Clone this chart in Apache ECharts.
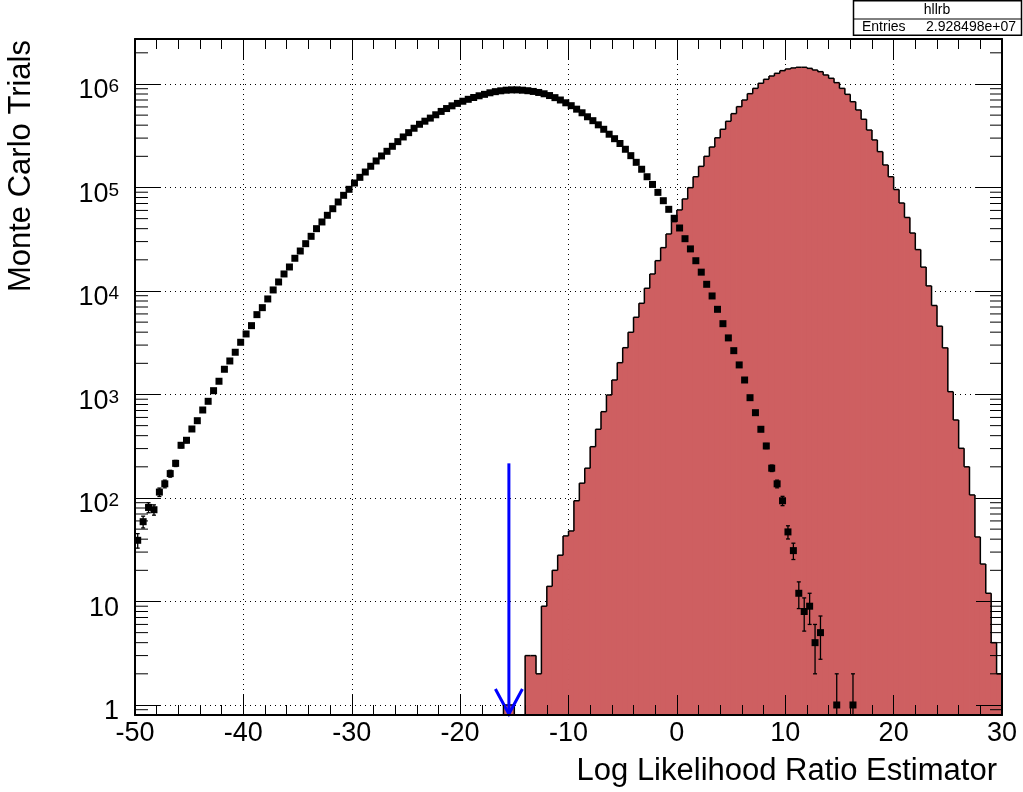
<!DOCTYPE html>
<html><head><meta charset="utf-8">
<script src="https://cdn.jsdelivr.net/npm/echarts@6/dist/echarts.min.js"></script>
<style>html,body{margin:0;padding:0;background:#fff}#c{width:1023px;height:792px}</style>
</head><body><div id="c"></div>
<script>
// ---- data ----
const X_MIN = -50, X_MAX = 30, BIN = 0.5;
const Y_MIN = 0.8, Y_MAX = 2.72e6;
const xTickValues = [-50, -40, -30, -20, -10, 0, 10, 20, 30];
const yTickLabels = ['1', '10', '10^2', '10^3', '10^4', '10^5', '10^6'];

// black points (first bin centre -49.75, bin width 0.5)
const blackFirstCenter = -49.75;
const blackCounts = [
  39, 59, 81, 77, 114, 137, 172, 216, 323, 361, 464, 558, 708, 859, 1088, 1342, 1752, 2107, 2558, 3194,
  3843, 4624, 5907, 6900, 8376, 10230, 12220, 14600, 17050, 20700, 24330, 28640, 33740, 40000, 46430, 53850,
  62350, 72400, 84000, 96000, 110400, 125300, 141000, 160300, 180400, 201500, 223600, 250000, 277300, 307700,
  338600, 373400, 408000, 437000,
  468000, 504000, 543000, 579000, 615000, 649000, 681000, 711000, 740000, 769000, 794000, 822000, 843000,
  859000, 871000, 877000, 877000, 871000, 861000, 847000, 828000, 804000, 773000, 738000, 700000, 658000,
  617000, 571000, 527000, 482000, 442000, 403000, 365000, 327000, 296000, 266000, 234000, 203000, 175000,
  150000, 127000, 107000, 89700, 74500, 61500, 50400, 40600, 32000, 25500, 19600, 15200, 11600, 8950, 6650,
  4830, 3520, 2650, 1930, 1380, 931, 667, 461, 318, 194, 137, 94, 47, 31, 12, 8, 9, 4, 5, 0, 0, 1, 0, 0, 1
];

// red filled histogram (first bin centre -15.75, bin width 0.5)
const redFirstCenter = -15.75;
const redCounts = [
  1, 1, 0, 0, 3, 3, 2, 9, 14, 20, 28, 43, 48, 94, 139, 194,
  313, 461, 682, 989, 1380, 2028, 2831, 3990, 5572, 7603, 10620, 14590, 19630, 26220, 35540, 46770,
  60680, 77480, 99600, 127000, 160000, 200000, 246000, 302000, 365000, 436000,
  517000, 604000, 700000, 806000, 907000, 1016000, 1110000, 1194000, 1268000, 1345000,
  1397000, 1429000, 1450000, 1450000, 1416000, 1365000, 1315000, 1222000, 1135000, 1030000,
  907000, 794000, 674000, 561000, 456000, 359000, 288000, 222000, 165000, 127000,
  95500, 70800, 51300, 36300, 25100, 17000, 11200, 7240, 4570, 2820,
  1064, 567, 302, 200, 107, 42, 23, 12, 4, 2
];

// blue arrow: [x position, top value]
const cutArrow = [-15.5, 216];

const statsName = 'hllrb';
const statsLabel = 'Entries';
const statsValue = '2.928498e+07';
const xTitle = 'Log Likelihood Ratio Estimator';
const yTitle = 'Monte Carlo Trials';

// ---- styles ----
const FONT = 'Liberation Sans';
const RED = '#ce5f61';

const yMinorTicks = [];
[0.1, 1, 10, 100, 1e3, 1e4, 1e5, 1e6].forEach(d => {
  for (let k = 2; k <= 9; k++) { const t = d * k; if (t > Y_MIN && t < Y_MAX) yMinorTicks.push(t); }
});

function yLabel(v) {
  const l = Math.log10(v), e = Math.round(l);
  if (Math.abs(l - e) > 1e-6 || e < 0 || e >= yTickLabels.length) return '';
  const s = yTickLabels[e];
  if (s.indexOf('^') < 0) return '{p|' + s + '}';
  const p = s.split('^');
  return '{b|' + p[0] + '}{s|' + p[1] + '}';
}

const redData = redCounts.map((v, i) => {
  const c = redFirstCenter + i * BIN;
  return [c - BIN / 2, c + BIN / 2, v, i > 0 ? redCounts[i - 1] : 0, i === redCounts.length - 1 ? 1 : 0];
});
const blackData = blackCounts.map((v, i) => [blackFirstCenter + i * BIN, v]).filter(d => d[1] > 0);

const yv = v => (v > 0 ? v : Y_MIN);

const baseX = { type: 'value', min: X_MIN, max: X_MAX, interval: 10, gridIndex: 0 };
const baseY = { type: 'log', logBase: 10, min: Y_MIN, max: Y_MAX, gridIndex: 0 };
const tickStyle = { color: '#000', width: 1 };

const option = {
  animation: false,
  backgroundColor: '#fff',
  grid: { left: 135, top: 39, width: 867, height: 676, show: false },
  xAxis: [
    Object.assign({}, baseX, {
      position: 'bottom', z: 10,
      axisLine: { show: true, onZero: false, lineStyle: { color: '#000', width: 2 } },
      axisTick: { show: true, inside: true, length: 20, lineStyle: tickStyle },
      minorTick: { show: true, splitNumber: 5, length: 10, lineStyle: tickStyle },
      axisLabel: { show: true, margin: 5, fontSize: 27, fontFamily: FONT, color: '#000' },
      splitLine: { show: false }
    }),
    Object.assign({}, baseX, {
      position: 'top', z: 10,
      axisLine: { show: true, onZero: false, lineStyle: { color: '#000', width: 2 } },
      axisTick: { show: true, inside: true, length: 20, lineStyle: tickStyle },
      minorTick: { show: true, splitNumber: 5, length: 10, lineStyle: tickStyle },
      axisLabel: { show: false },
      splitLine: { show: false }
    }),
    Object.assign({}, baseX, {
      position: 'bottom', z: 0,
      axisLine: { show: false }, axisTick: { show: false }, axisLabel: { show: false },
      splitLine: { show: true, lineStyle: { color: '#000', width: 1, type: [1, 4] } }
    })
  ],
  yAxis: [
    Object.assign({}, baseY, {
      position: 'left', z: 10,
      axisLine: { show: true, onZero: false, lineStyle: { color: '#000', width: 2 } },
      axisTick: { show: true, inside: true, length: 26, lineStyle: tickStyle },
      axisLabel: {
        show: true, margin: 16, fontSize: 27, fontFamily: FONT, color: '#000',
        padding: [14, 0, 0, 0],
        formatter: yLabel,
        rich: {
          p: { fontSize: 27, lineHeight: 27, fontFamily: FONT, color: '#000', verticalAlign: 'top', padding: [0, 0, 5, 0] },
          b: { fontSize: 27, lineHeight: 27, fontFamily: FONT, color: '#000', verticalAlign: 'bottom' },
          s: { fontSize: 19, lineHeight: 19, fontFamily: FONT, color: '#000', verticalAlign: 'top', padding: [0, 0, 12, 0] }
        }
      },
      splitLine: { show: false }
    }),
    Object.assign({}, baseY, {
      position: 'right', z: 10,
      axisLine: { show: true, onZero: false, lineStyle: { color: '#000', width: 2 } },
      axisTick: { show: true, inside: true, length: 26, lineStyle: tickStyle },
      axisLabel: { show: false },
      splitLine: { show: false }
    }),
    Object.assign({}, baseY, {
      position: 'left', z: 0,
      axisLine: { show: false }, axisTick: { show: false }, axisLabel: { show: false },
      splitLine: { show: true, lineStyle: { color: '#000', width: 1, type: [1, 4] } }
    })
  ],
  series: [
    { // red fill
      type: 'custom', xAxisIndex: 0, yAxisIndex: 0, z: 3, silent: true,
      data: redData, encode: { x: [0, 1], y: 2 },
      renderItem: function (params, api) {
        const v = api.value(2);
        if (!(v > 0)) return null;
        const a = api.coord([api.value(0), v]);
        const b = api.coord([api.value(1), v]);
        const base = api.coord([api.value(0), Y_MIN]);
        return { type: 'rect', shape: { x: a[0] - 0.4, y: a[1], width: b[0] - a[0] + 0.8, height: base[1] - a[1] },
          style: { fill: RED } };
      }
    },
    { // red outline
      type: 'custom', xAxisIndex: 0, yAxisIndex: 0, z: 4, silent: true,
      data: redData, encode: { x: [0, 1], y: 2 },
      renderItem: function (params, api) {
        const x0 = api.value(0), x1 = api.value(1), v = api.value(2), pv = api.value(3), last = api.value(4);
        const a = api.coord([x0, yv(v)]), b = api.coord([x1, yv(v)]), p = api.coord([x0, yv(pv)]);
        const base = api.coord([x1, Y_MIN]);
        const st = { stroke: '#000', lineWidth: 1.5, fill: null };
        const ch = [];
        if (v > 0) ch.push({ type: 'line', shape: { x1: a[0], y1: a[1], x2: b[0], y2: b[1] }, style: st });
        if (Math.abs(p[1] - a[1]) > 0.1) ch.push({ type: 'line', shape: { x1: a[0], y1: p[1], x2: a[0], y2: a[1] }, style: st });
        if (last && v > 0) ch.push({ type: 'line', shape: { x1: b[0], y1: b[1], x2: b[0], y2: base[1] }, style: st });
        return { type: 'group', children: ch };
      }
    },
    { // black points with sqrt(N) error bars
      type: 'custom', xAxisIndex: 0, yAxisIndex: 0, z: 5, silent: true,
      data: blackData, encode: { x: 0, y: 1 },
      renderItem: function (params, api) {
        const x = api.value(0), v = api.value(1), e = Math.sqrt(v);
        const c = api.coord([x, v]);
        const hi = api.coord([x, v + e]);
        const lo = api.coord([x, v - e > Y_MIN ? v - e : Y_MIN]);
        const st = { stroke: '#000', lineWidth: 1.3, fill: null };
        const ch = [
          { type: 'line', shape: { x1: c[0], y1: hi[1], x2: c[0], y2: lo[1] }, style: st },
          { type: 'line', shape: { x1: c[0] - 2, y1: hi[1], x2: c[0] + 2, y2: hi[1] }, style: st }
        ];
        if (v - e > Y_MIN) ch.push({ type: 'line', shape: { x1: c[0] - 2, y1: lo[1], x2: c[0] + 2, y2: lo[1] }, style: st });
        ch.push({ type: 'rect', shape: { x: c[0] - 3.5, y: c[1] - 3.5, width: 7, height: 7 }, style: { fill: '#000' } });
        return { type: 'group', children: ch };
      }
    },
    { // blue arrow
      type: 'custom', xAxisIndex: 0, yAxisIndex: 0, z: 6, silent: true,
      data: [cutArrow], encode: { x: 0, y: 1 },
      renderItem: function (params, api) {
        const top = api.coord([api.value(0), api.value(1)]);
        const bot = api.coord([api.value(0), Y_MIN]);
        const st = { stroke: '#0000ff', lineWidth: 3, fill: null };
        return { type: 'group', children: [
          { type: 'line', shape: { x1: top[0], y1: top[1], x2: bot[0], y2: bot[1] - 1 }, style: st },
          { type: 'polyline', shape: { points: [[bot[0] - 13.5, bot[1] - 26], [bot[0], bot[1] - 1], [bot[0] + 13.5, bot[1] - 26]] }, style: st }
        ] };
      }
    },
    { // log minor ticks on left and right frame
      type: 'custom', xAxisIndex: 0, yAxisIndex: 0, z: 11, silent: true,
      data: yMinorTicks.map(t => [X_MIN, t]), encode: { x: 0, y: 1 }, clip: false,
      renderItem: function (params, api) {
        const l = api.coord([X_MIN, api.value(1)]);
        const r = api.coord([X_MAX, api.value(1)]);
        const st = { stroke: '#000', lineWidth: 1, fill: null };
        return { type: 'group', children: [
          { type: 'line', shape: { x1: l[0], y1: l[1], x2: l[0] + 13, y2: l[1] }, style: st },
          { type: 'line', shape: { x1: r[0], y1: r[1], x2: r[0] - 12, y2: r[1] }, style: st }
        ] };
      }
    }
  ],
  graphic: [
    { type: 'rect', z: 20, shape: { x: 853.5, y: 0.75, width: 168, height: 34.5 },
      style: { fill: '#fff', stroke: '#000', lineWidth: 1.5 } },
    { type: 'line', z: 20, shape: { x1: 853.5, y1: 19, x2: 1021.5, y2: 19 }, style: { stroke: '#000', lineWidth: 1 } },
    { type: 'text', z: 21, x: 937, y: 10.5,
      style: { text: statsName, font: '14px "Liberation Sans"', fill: '#000', align: 'center', verticalAlign: 'middle', textAlign: 'center', textVerticalAlign: 'middle' } },
    { type: 'text', z: 21, x: 862, y: 27.5,
      style: { text: statsLabel, font: '14px "Liberation Sans"', fill: '#000', align: 'left', verticalAlign: 'middle', textAlign: 'left', textVerticalAlign: 'middle' } },
    { type: 'text', z: 21, x: 1016, y: 27.5,
      style: { text: statsValue, font: '14px "Liberation Sans"', fill: '#000', align: 'right', verticalAlign: 'middle', textAlign: 'right', textVerticalAlign: 'middle' } },
    { type: 'text', z: 21, x: 997, y: 771,
      style: { text: xTitle, font: '31px "Liberation Sans"', fill: '#000', align: 'right', verticalAlign: 'middle', textAlign: 'right', textVerticalAlign: 'middle' } },
    { type: 'text', z: 21, x: 21, y: 40, rotation: Math.PI / 2,
      style: { text: yTitle, font: '31px "Liberation Sans"', fill: '#000', align: 'right', verticalAlign: 'middle', textAlign: 'right', textVerticalAlign: 'middle' } }
  ]
};

const chart = echarts.init(document.getElementById('c'), null, { renderer: 'canvas', width: 1023, height: 792 });
chart.setOption(option);
</script>
</body></html>
